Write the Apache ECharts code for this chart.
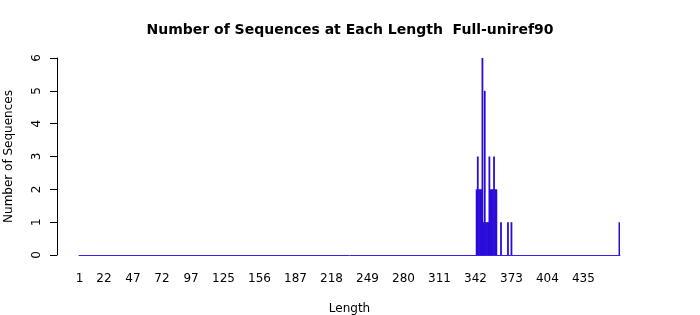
<!DOCTYPE html>
<html>
<head>
<meta charset="utf-8">
<script src="https://cdn.jsdelivr.net/npm/echarts@6/dist/echarts.min.js"></script>
<style>html,body{margin:0;padding:0;background:#fff;}#chart{width:700px;height:315px;}</style>
</head>
<body>
<div id="chart"></div>
<script>
// Data
var maxLength = 466;
var nonzeroLengths = [343, 344, 345, 346, 347, 348, 349, 350, 351, 352, 353, 354, 355, 356, 357, 358, 359, 360, 364, 370, 373, 466];
var nonzeroCounts  = [2,   3,   2,   2,   2,   6,   1,   5,   1,   1,   1,   3,   2,   2,   2,   3,   2,   2,   1,   1,   1,   1];
var xTickLabels = ['1', '22', '47', '72', '97', '125', '156', '187', '218', '249', '280', '311', '342', '373', '404', '435'];
var yTicks = [0, 1, 2, 3, 4, 5, 6];

// Build the full category table (every length, zero where no sequence)
var categories = [];
var counts = [];
for (var i = 1; i <= maxLength; i++) { categories.push(String(i)); counts.push(0); }
nonzeroLengths.forEach(function (len, k) { counts[len - 1] = nonzeroCounts[k]; });
var labelSet = {};
xTickLabels.forEach(function (l) { labelSet[l] = true; });

var chart = echarts.init(document.getElementById('chart'), null, {renderer: 'canvas'});
var font = 'DejaVu Sans';
chart.setOption({
  animation: false,
  backgroundColor: '#ffffff',
  title: {
    text: 'Number of Sequences at Each Length  Full-uniref90',
    left: 'center', top: 18,
    textStyle: {fontFamily: font, fontWeight: 'bold', fontSize: 14, color: '#000'}
  },
  grid: {left: 79, top: 58, width: 541, bottom: 60, containLabel: false, outerBoundsMode: 'none'},
  xAxis: {
    type: 'category',
    data: categories,
    boundaryGap: true,
    name: 'Length',
    nameLocation: 'middle',
    nameGap: 48,
    nameTextStyle: {fontFamily: font, fontSize: 12, color: '#000'},
    axisLine: {show: true, lineStyle: {color: '#3322ee', width: 1}},
    axisTick: {show: false},
    axisLabel: {
      interval: function (index, value) { return !!labelSet[value]; },
      fontFamily: font, fontSize: 12, color: '#000', margin: 18,
      hideOverlap: false
    },
    splitLine: {show: false}
  },
  yAxis: {
    type: 'value',
    min: yTicks[0], max: yTicks[yTicks.length - 1], interval: 1,
    offset: 22,
    name: 'Number of Sequences',
    nameLocation: 'middle',
    nameRotate: 90,
    nameGap: 42,
    nameTextStyle: {fontFamily: font, fontSize: 12, color: '#000'},
    axisLine: {show: true, lineStyle: {color: '#000', width: 1}},
    axisTick: {show: true, inside: false, length: 7, lineStyle: {color: '#000'}},
    axisLabel: {fontFamily: font, fontSize: 12, color: '#000', rotate: 90, margin: 14},
    splitLine: {show: false}
  },
  series: [{
    type: 'bar',
    data: counts,
    barWidth: 1.8,
    itemStyle: {color: '#2a0cd8'},
    silent: true
  }]
});
</script>
</body>
</html>
